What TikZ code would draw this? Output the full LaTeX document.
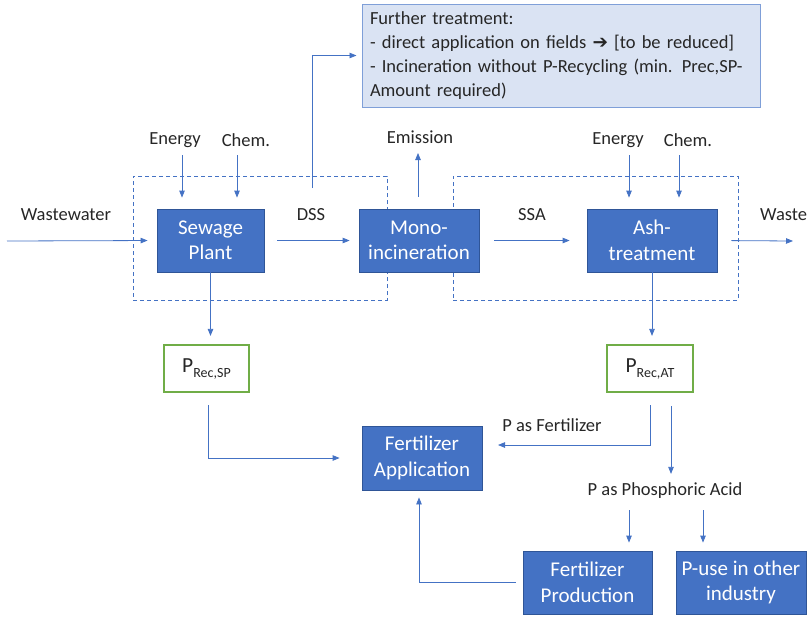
\documentclass[tikz,border=0pt]{standalone}
\usepackage{fontspec}
\setmainfont{Carlito}
\newfontfamily\dejavu{DejaVu Sans}
\usetikzlibrary{arrows.meta,calc}
\definecolor{boxblue}{HTML}{4472C4}
\definecolor{boxedge}{HTML}{2F5597}
\definecolor{lightblue}{HTML}{DAE3F3}
\definecolor{lightedge}{HTML}{7F9FD8}
\definecolor{recgreen}{HTML}{70AD47}
\definecolor{txt}{HTML}{262626}
\tikzset{
  x=1pt, y=-1pt,
  procbox/.style={draw=boxedge, line width=0.8pt, fill=boxblue, text=white, align=center,
    font=\fontsize{21}{25.5}\selectfont, inner sep=0pt},
  recbox/.style={draw=recgreen, line width=2.2pt, fill=white, text=txt, align=center,
    font=\fontsize{21.5}{25}\selectfont, inner sep=0pt},
  lbl/.style={text=txt, font=\fontsize{18.5}{22}\selectfont, inner sep=0pt},
  dashbox/.style={draw=boxblue, line width=1pt, dash pattern=on 4pt off 3pt, inner sep=0pt},
  arr/.style={draw=boxblue, line width=0.8pt, -{Triangle[length=7pt,width=5.5pt]}},
}
\begin{document}
\begin{tikzpicture}
\useasboundingbox (0,0) rectangle (810,616);
% dashed groups
\node[dashbox, minimum width=254pt, minimum height=124pt] (g1) at (260,238) {};
\node[dashbox, minimum width=285pt, minimum height=124pt] (g2) at (595.5,238) {};
% process boxes
\node[procbox, minimum width=107pt, minimum height=63pt] (SP) at (210.5,240.5) {Sewage\\Plant};
\node[procbox, minimum width=120pt, minimum height=63pt] (Mono) at (419,240.5) {Mono-\\incineration};
\node[procbox, minimum width=130pt, minimum height=63pt] (Ash) at (652,240.5) {Ash-\\treatment};
\node[procbox, minimum width=120pt, minimum height=64pt] (FA) at (422,458) {Fertilizer\\Application};
\node[procbox, minimum width=129pt, minimum height=63pt] (FP) at (587.5,582.5) {Fertilizer\\Production};
\node[procbox, minimum width=130pt, minimum height=63pt] (PU) at (741,582.5) {P-use in other\\industry};
% recovery boxes
\node[recbox, minimum width=85pt, minimum height=47pt] (PSP) at (206.5,368.5)
  {P\raisebox{-5pt}{\fontsize{14}{14}\selectfont Rec,SP}};
\node[recbox, minimum width=86pt, minimum height=47pt] (PAT) at (650,368.5)
  {P\raisebox{-5pt}{\fontsize{14}{14}\selectfont Rec,AT}};
% further treatment
\node[draw=lightedge, line width=1pt, fill=lightblue, text=txt, align=left,
  font=\fontsize{18.5}{24}\selectfont, minimum width=398pt, minimum height=103pt,
  text width=382pt, inner xsep=8pt, inner ysep=0pt] (FT) at (561,55.5)
  {Further treatment:\\
   - direct application on fields {\dejavu\bfseries ➔} [to be reduced]\\
   - Incineration without P-Recycling (min. Prec,SP-\\
   Amount required)};
% labels
\node[lbl] (lww) at (66,215) {Wastewater};
\node[lbl] (ldss) at (311,215) {DSS};
\node[lbl] (lssa) at (532,215) {SSA};
\node[lbl, anchor=west] (lwaste) at (760,215) {Waste};
\node[lbl] (len1) at (175,140) {Energy};
\node[lbl] (lch1) at (246,140) {Chem.};
\node[lbl] (len2) at (618,140) {Energy};
\node[lbl] (lch2) at (688,140) {Chem.};
\node[lbl] (lem) at (420,137) {Emission};
\node[lbl] (lpf) at (552,425) {P as Fertilizer};
\node[lbl] (acid) at (665,491) {P as Phosphoric Acid};
% coordinates
\coordinate (ww) at (7,241);
\coordinate (wasteend) at (793,241);
\coordinate (e1) at (182,155);
\coordinate (c1) at (237,155);
\coordinate (e2) at (629,155);
\coordinate (c2) at (679,155);
\coordinate (emend) at (418,153);
\coordinate (dssup) at (312,188);
\coordinate (pfstart) at (650,405);
\coordinate (pfend) at (498,445);
\coordinate (pastart) at (671,406);
\coordinate (fp1) at (629,510);
\coordinate (pu1) at (703,510);
% connectors
\draw[arr, shorten >=9pt] (ww) -- (SP.west);
\draw[arr, shorten <=13pt, shorten >=9pt] (SP.east) -- (Mono.west);
\draw[arr, shorten <=15pt, shorten >=17pt] (Mono.east) -- (Ash.west);
\draw[arr, shorten <=14pt] (Ash.east) -- (wasteend);
\draw[arr, shorten >=11pt] (e1) -- (e1 |- SP.north);
\draw[arr, shorten >=11pt] (c1) -- (c1 |- SP.north);
\draw[arr, shorten >=11pt] (e2) -- (e2 |- Ash.north);
\draw[arr, shorten >=11pt] (c2) -- (c2 |- Ash.north);
\draw[arr] ($(Mono.north)+(-1,-12)$) -- (emend);
\draw[arr, shorten >=5pt] (dssup) |- (FT.west);
\draw[arr, shorten >=8pt] (SP.south) -- (SP.south |- PSP.north);
\draw[arr, shorten >=8pt] (Ash.south) -- (Ash.south |- PAT.north);
\draw[arr, shorten >=22pt] ($(PSP.south)+(1.5,12)$) |- (FA.west);
\draw[arr] (pfstart) |- (pfend);
\draw[arr] (pastart) -- ($(acid.north)+(6,-9)$);
\draw[arr, shorten >=8pt] (fp1) -- (fp1 |- FP.north);
\draw[arr, shorten >=8pt] (pu1) -- (pu1 |- PU.north);
\draw[arr, shorten <=7pt, shorten >=7pt] (FP.west) -| ($(FA.south)+(-3,0)$);
\end{tikzpicture}
\end{document}
